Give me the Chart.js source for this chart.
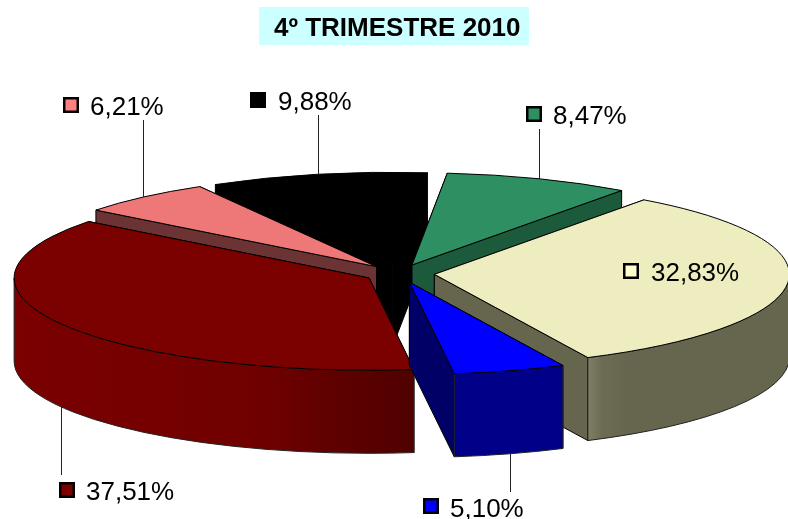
<!DOCTYPE html>
<html>
<head>
<meta charset="utf-8">
<script src="https://cdn.jsdelivr.net/npm/chart.js@4"></script>
<style>
  html, body { margin: 0; padding: 0; background: #fff; }
  canvas { display: block; }
</style>
</head>
<body>
<canvas id="chart" width="788" height="519"></canvas>
<script>
const titleText = '4º TRIMESTRE 2010';
const categories = ['Verde', 'Crema', 'Azul', 'Rojo', 'Rosa', 'Negro'];
const values = [8.47, 32.83, 5.10, 37.51, 6.21, 9.88];
const topColors = ['#2e8f62', '#ededbf', '#0000ff', '#7b0000', '#ee7777', '#000000'];
const swatchColors = ['#2e8f62', '#ffffcc', '#0000ff', '#7b0000', '#ff8080', '#000000'];
const cutColors = ['#1c5a3c', '#66664f', '#000066', '#500000', '#6b3333', '#000000'];

// pie look
const tilt = 0.26;
const depth = 83;
const explode = 35;

// where each label sits: swatch corner, text start, baseline, leader end (null = no leader)
const labelBoxes = [
  { sx: 526, sy: 106, tx: 553, ty: 124, leadTo: 129 },
  { sx: 623, sy: 263, tx: 651, ty: 281, leadTo: null },
  { sx: 423, sy: 498, tx: 450, ty: 517, leadTo: 492 },
  { sx: 59, sy: 482, tx: 86, ty: 500, leadTo: 475 },
  { sx: 63, sy: 97, tx: 90, ty: 115, leadTo: 120 },
  { sx: 250, sy: 92, tx: 278, ty: 110, leadTo: 115 },
];

const formatValue = (v) => v.toFixed(2).replace('.', ',') + '%';

function apexOf(arc) {
  const mid = (arc.startAngle + arc.endAngle) / 2;
  return { x: arc.x + explode * Math.cos(mid), y: arc.y + explode * tilt * Math.sin(mid) };
}

function rimPoint(arc, a) {
  const p = apexOf(arc);
  return { x: p.x + arc.outerRadius * Math.cos(a), y: p.y + arc.outerRadius * tilt * Math.sin(a) };
}

function drawCutFace(ctx, arc, a, color) {
  const p = apexOf(arc);
  const r = rimPoint(arc, a);
  ctx.beginPath();
  ctx.moveTo(p.x, p.y);
  ctx.lineTo(r.x, r.y);
  ctx.lineTo(r.x, r.y + depth);
  ctx.lineTo(p.x, p.y + depth);
  ctx.closePath();
  ctx.fillStyle = color;
  ctx.fill();
  ctx.strokeStyle = '#000';
  ctx.lineWidth = 1;
  ctx.stroke();
}

function wallFill(ctx, i, x0, x1) {
  const g = ctx.createLinearGradient(x0, 0, x1, 0);
  if (i === 3) { // red gets darker towards the right
    g.addColorStop(0, '#7b0000');
    g.addColorStop(0.62, '#700000');
    g.addColorStop(0.82, '#5e0000');
    g.addColorStop(1, '#500000');
    return g;
  }
  if (i === 1) { // cream has a light band on its left
    g.addColorStop(0, '#66664f');
    g.addColorStop(0.8, '#66664f');
    g.addColorStop(0.93, '#6c6c55');
    g.addColorStop(1, '#7f7f66');
    return g;
  }
  if (i === 2) return '#000088';
  return cutColors[i];
}

function drawWall(ctx, arc, i) {
  // only the part of the rim facing the viewer
  const a0 = Math.max(arc.startAngle, 0);
  const a1 = Math.min(arc.endAngle, Math.PI);
  const p = apexOf(arc);
  const R = arc.outerRadius;
  const ry = R * tilt;
  if (a1 <= a0) return;
  const s = rimPoint(arc, a0);
  const e = rimPoint(arc, a1);
  ctx.beginPath();
  ctx.ellipse(p.x, p.y, R, ry, 0, a0, a1);
  ctx.lineTo(e.x, e.y + depth);
  ctx.ellipse(p.x, p.y + depth, R, ry, 0, a1, a0, true);
  ctx.closePath();
  const xs = [s.x, e.x];
  if (a0 <= 0 && a1 >= 0) xs.push(p.x + R);
  if (a0 <= Math.PI && a1 >= Math.PI) xs.push(p.x - R);
  ctx.fillStyle = i === 1
    ? wallFill(ctx, i, Math.max(...xs), Math.min(...xs))
    : wallFill(ctx, i, Math.min(...xs), Math.max(...xs));
  ctx.fill();
  ctx.strokeStyle = '#222';
  ctx.lineWidth = 1;
  ctx.stroke();
}

function drawTop(ctx, arc) {
  const p = apexOf(arc);
  ctx.save();
  ctx.translate(p.x, p.y);
  ctx.scale(1, tilt);
  ctx.translate(-arc.x, -arc.y);
  arc.draw(ctx);
  ctx.restore();
  ctx.beginPath();
  ctx.moveTo(p.x, p.y);
  ctx.ellipse(p.x, p.y, arc.outerRadius, arc.outerRadius * tilt, 0, arc.startAngle, arc.endAngle);
  ctx.closePath();
  ctx.strokeStyle = '#000';
  ctx.lineWidth = 1;
  ctx.stroke();
}

const pie3d = {
  id: 'pie3d',
  beforeDatasetDraw(chart, args) {
    const ctx = chart.ctx;
    const arcs = args.meta.data;
    const order = arcs.map((arc, i) => i).sort((a, b) => {
      const ma = (arcs[a].startAngle + arcs[a].endAngle) / 2;
      const mb = (arcs[b].startAngle + arcs[b].endAngle) / 2;
      return Math.sin(ma) - Math.sin(mb);
    });
    order.forEach((i) => {
      const arc = arcs[i];
      const faces = [arc.startAngle, arc.endAngle].sort((a, b) => Math.sin(a) - Math.sin(b));
      faces.forEach((a) => drawCutFace(ctx, arc, a, cutColors[i]));
      drawWall(ctx, arc, i);
      drawTop(ctx, arc);
    });
    return false;
  },
  afterDraw(chart) {
    const ctx = chart.ctx;
    const arcs = chart.getDatasetMeta(0).data;
    ctx.save();
    ctx.textBaseline = 'alphabetic';
    ctx.textAlign = 'left';
    arcs.forEach((arc, i) => {
      const box = labelBoxes[i];
      if (box.leadTo !== null) {
        const mid = (arc.startAngle + arc.endAngle) / 2;
        const r = rimPoint(arc, mid);
        const front = Math.sin(mid) > 0;
        const x = Math.round(r.x) + 0.5;
        ctx.beginPath();
        ctx.moveTo(x, front ? r.y + depth : r.y);
        ctx.lineTo(x, box.leadTo);
        ctx.strokeStyle = '#222';
        ctx.lineWidth = 1;
        ctx.stroke();
      }
      ctx.fillStyle = '#000';
      ctx.fillRect(box.sx, box.sy, 16, 16);
      ctx.fillStyle = swatchColors[i];
      ctx.fillRect(box.sx + 2.5, box.sy + 2.5, 11, 11);
      ctx.fillStyle = '#000';
      ctx.font = '26px "Liberation Sans", Arial, sans-serif';
      ctx.fillText(formatValue(values[i]), box.tx, box.ty);
    });
    // title box
    ctx.fillStyle = '#ccffff';
    ctx.fillRect(259, 7, 270, 38);
    ctx.fillStyle = '#000';
    ctx.font = 'bold 26px "Liberation Sans", Arial, sans-serif';
    ctx.fillText(titleText, 274, 36);
    ctx.restore();
  },
};

new Chart(document.getElementById('chart').getContext('2d'), {
  type: 'pie',
  data: {
    labels: categories,
    datasets: [{
      data: values,
      backgroundColor: topColors,
      borderWidth: 0,
      radius: 355,
      clip: false,
    }],
  },
  options: {
    responsive: false,
    animation: false,
    rotation: 5.7,
    layout: { padding: { left: 11, top: 28 } },
    plugins: {
      legend: { display: false },
      tooltip: { enabled: false },
      title: { display: false },
    },
  },
  plugins: [pie3d],
});
</script>
</body>
</html>
